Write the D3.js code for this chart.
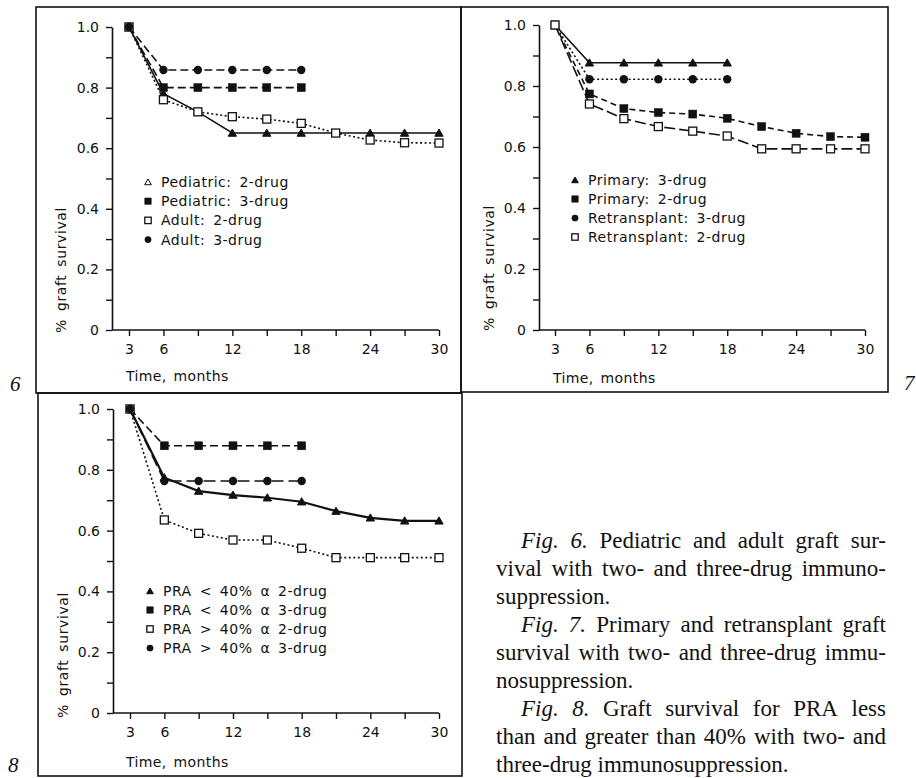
<!DOCTYPE html>
<html lang="en">
<head>
    <meta charset="UTF-8">
    <title>Graft survival, Figs. 6-8</title>
    <script src="https://d3js.org/d3.v7.min.js"></script>
    <style>
        body{
            margin: 0;
            background: #fff;
        }
        svg{
            display: block;
        }
        .tick text, .lab{
            font-family: "DejaVu Sans", sans-serif;
            font-size: 14px;
            fill: #111;
        }
    </style>
</head>
<body>
    <div id="chart"></div>

    <script>
        // months on the x axis (every 3 months)
        const months = [3, 6, 9, 12, 15, 18, 21, 24, 27, 30];
        const xLabelMonths = [3, 6, 12, 18, 24, 30];
        const yTicks = [0, 0.1, 0.2, 0.3, 0.4, 0.5, 0.6, 0.7, 0.8, 0.9, 1.0];
        const yLabels = ["0", "", "0.2", "", "0.4", "", "0.6", "", "0.8", "", "1.0"];

        // Fig. 6 - pediatric / adult
        const ped2drug   = [1.0, 0.78, 0.72, 0.65, 0.65, 0.65, 0.65, 0.65, 0.65, 0.65];
        const ped3drug   = [1.0, 0.80, 0.80, 0.80, 0.80, 0.80];
        const adult2drug = [1.0, 0.76, 0.72, 0.704, 0.696, 0.682, 0.65, 0.627, 0.618, 0.617];
        const adult3drug = [1.0, 0.858, 0.858, 0.858, 0.858, 0.858];

        // Fig. 7 - primary / retransplant
        const prim3drug  = [1.0, 0.876, 0.876, 0.876, 0.876, 0.876];
        const prim2drug  = [1.0, 0.774, 0.726, 0.713, 0.708, 0.694, 0.667, 0.645, 0.634, 0.632];
        const retx3drug  = [1.0, 0.822, 0.822, 0.822, 0.822, 0.822];
        const retx2drug  = [1.0, 0.741, 0.693, 0.667, 0.652, 0.636, 0.594, 0.594, 0.594, 0.594];

        // Fig. 8 - PRA
        const praLow2drug  = [1.0, 0.774, 0.730, 0.717, 0.708, 0.695, 0.664, 0.642, 0.632, 0.632];
        const praLow3drug  = [1.0, 0.879, 0.879, 0.879, 0.879, 0.879];
        const praHigh2drug = [1.0, 0.635, 0.591, 0.569, 0.569, 0.542, 0.511, 0.511, 0.511, 0.511];
        const praHigh3drug = [1.0, 0.763, 0.763, 0.763, 0.763, 0.763];

        const captionLines = [
            {text: "Fig. 6. Pediatric and adult graft sur-", indent: true, justify: true},
            {text: "vival with two- and three-drug immuno-", indent: false, justify: true},
            {text: "suppression.", indent: false, justify: false},
            {text: "Fig. 7. Primary and retransplant graft", indent: true, justify: true},
            {text: "survival with two- and three-drug immu-", indent: false, justify: true},
            {text: "nosuppression.", indent: false, justify: false},
            {text: "Fig. 8. Graft survival for PRA less", indent: true, justify: true},
            {text: "than and greater than 40% with two- and", indent: false, justify: true},
            {text: "three-drug immunosuppression.", indent: false, justify: false}
        ];

        const width = 916;
        const height = 778;

        const svg = d3.select("#chart")
            .append("svg")
            .attr("width", width)
            .attr("height", height);

        svg.append("rect")
            .attr("width", width)
            .attr("height", height)
            .attr("fill", "#fff");

        // panel frames
        const frames = [
            {x0: 36, y0: 7, x1: 461, y1: 393},
            {x0: 461, y0: 7, x1: 888, y1: 392},
            {x0: 38, y0: 393, x1: 462, y1: 776}
        ];
        svg.selectAll(".frame")
            .data(frames)
            .enter().append("rect")
            .attr("class", "frame")
            .attr("x", d => d.x0)
            .attr("y", d => d.y0)
            .attr("width", d => d.x1 - d.x0)
            .attr("height", d => d.y1 - d.y0)
            .attr("fill", "none")
            .attr("stroke", "#111")
            .attr("stroke-width", 1.6);

        // figure numbers
        const figNums = [
            {t: "6", x: 10, y: 391},
            {t: "7", x: 904, y: 390},
            {t: "8", x: 8, y: 772}
        ];
        svg.selectAll(".fignum")
            .data(figNums)
            .enter().append("text")
            .attr("x", d => d.x)
            .attr("y", d => d.y)
            .text(d => d.t)
            .style("font-family", "'Liberation Serif', serif")
            .style("font-style", "italic")
            .style("font-size", "21px")
            .attr("fill", "#111");

        // draw a marker
        function drawMarker(g, type, cx, cy, scale) {
            const s = scale || 1;
            if (type === "tri" || type === "otri") {
                g.append("path")
                    .attr("d", d3.symbol().type(d3.symbolTriangle).size(30 * s * s)())
                    .attr("transform", `translate(${cx},${cy + 0.8})`)
                    .attr("fill", type === "tri" ? "#111" : "#fff")
                    .attr("stroke", "#111")
                    .attr("stroke-width", 1);
            } else if (type === "sq" || type === "osq") {
                const h = 4 * s;
                g.append("rect")
                    .attr("x", cx - h)
                    .attr("y", cy - h)
                    .attr("width", 2 * h)
                    .attr("height", 2 * h)
                    .attr("fill", type === "sq" ? "#111" : "#fff")
                    .attr("stroke", "#111")
                    .attr("stroke-width", type === "sq" ? 0.5 : 1.3);
            } else {
                g.append("circle")
                    .attr("cx", cx)
                    .attr("cy", cy)
                    .attr("r", 4.2 * s)
                    .attr("fill", "#111");
            }
        }

        function drawPanel(p) {
            const g = svg.append("g");
            const x = d3.scaleLinear().domain([3, 30]).range([p.x3, p.x30]);
            const y = d3.scaleLinear().domain([0, 1]).range([p.y0, p.y1]);

            // y axis
            const yAxis = g.append("g")
                .attr("transform", `translate(${p.ax},0)`)
                .call(d3.axisLeft(y)
                    .tickValues(yTicks)
                    .tickSize(6)
                    .tickSizeOuter(0)
                    .tickPadding(7)
                    .tickFormat((d, i) => yLabels[i]));
            yAxis.select(".domain").attr("stroke-width", 1.6).attr("stroke", "#111");
            yAxis.selectAll(".tick line").attr("stroke-width", 1.4).attr("stroke", "#111");
            yAxis.attr("font-family", null).attr("font-size", null);

            // x axis
            const xAxis = g.append("g")
                .attr("transform", `translate(0,${p.y0})`)
                .call(d3.axisBottom(x)
                    .tickValues(months)
                    .tickSize(6)
                    .tickSizeOuter(0)
                    .tickPadding(8)
                    .tickFormat(d => xLabelMonths.includes(d) ? d : ""));
            xAxis.select(".domain").remove();
            xAxis.selectAll(".tick line").attr("stroke-width", 1.4).attr("stroke", "#111");
            xAxis.attr("font-family", null).attr("font-size", null);
            g.append("line")
                .attr("x1", p.ax)
                .attr("x2", p.x30)
                .attr("y1", p.y0)
                .attr("y2", p.y0)
                .attr("stroke", "#111")
                .attr("stroke-width", 1.6);

            // axis titles
            g.append("text")
                .attr("class", "lab")
                .attr("transform", `translate(${p.ytx},${p.yty}) rotate(-90)`)
                .attr("text-anchor", "middle")
                .attr("dy", "0.35em")
                .style("letter-spacing", "0.6px")
                .style("word-spacing", "3px")
                .text("% graft survival");

            g.append("text")
                .attr("class", "lab")
                .attr("x", p.xtx)
                .attr("y", p.xty)
                .style("letter-spacing", "0.4px")
                .style("word-spacing", "2px")
                .text("Time, months");

            // lines
            const line = d3.line()
                .x(d => x(d.m))
                .y(d => y(d.v));

            p.series.forEach(s => {
                const pts = s.values.map((v, i) => ({m: months[i], v: v}));
                g.append("path")
                    .datum(pts)
                    .attr("d", line)
                    .attr("fill", "none")
                    .attr("stroke", "#111")
                    .attr("stroke-width", s.lw || 1.6)
                    .attr("stroke-dasharray", s.dash);
            });
            p.series.forEach(s => {
                s.values.forEach((v, i) => drawMarker(g, s.marker, x(months[i]), y(v), 1));
            });

            // legend
            p.series.forEach((s, i) => {
                const ly = p.ly + i * p.lstep;
                drawMarker(g, s.legendMarker || s.marker, p.lx, ly, 0.8);
                g.append("text")
                    .attr("class", "lab")
                    .attr("x", p.lx + 13)
                    .attr("y", ly)
                    .attr("dy", "0.36em")
                    .style("letter-spacing", "0.5px")
                    .style("word-spacing", "3px")
                    .text(s.name);
            });
        }

        // Fig. 6
        drawPanel({
            x3: 129, x30: 439, y0: 330, y1: 27, ax: 112,
            ytx: 61, yty: 270, xtx: 126, xty: 381,
            lx: 148, ly: 182, lstep: 19.2,
            series: [
                {name: "Pediatric: 2-drug", values: ped2drug, marker: "tri", legendMarker: "otri", dash: null},
                {name: "Pediatric: 3-drug", values: ped3drug, marker: "sq", dash: "8,4"},
                {name: "Adult: 2-drug", values: adult2drug, marker: "osq", dash: "2,2.5"},
                {name: "Adult: 3-drug", values: adult3drug, marker: "dot", dash: "8,4"}
            ]
        });

        // Fig. 7
        drawPanel({
            x3: 555, x30: 865, y0: 330, y1: 25, ax: 539,
            ytx: 489, yty: 268, xtx: 553, xty: 383,
            lx: 575, ly: 180, lstep: 19,
            series: [
                {name: "Primary: 3-drug", values: prim3drug, marker: "tri", dash: null},
                {name: "Primary: 2-drug", values: prim2drug, marker: "sq", dash: "6,4"},
                {name: "Retransplant: 3-drug", values: retx3drug, marker: "dot", dash: "2,2.5"},
                {name: "Retransplant: 2-drug", values: retx2drug, marker: "osq", dash: "11,4"}
            ]
        });

        // Fig. 8
        drawPanel({
            x3: 130, x30: 439, y0: 713, y1: 409, ax: 113,
            ytx: 63, yty: 655, xtx: 126, xty: 767,
            lx: 150, ly: 591, lstep: 19,
            series: [
                {name: "PRA < 40% α 2-drug", values: praLow2drug, marker: "tri", dash: null, lw: 2.2},
                {name: "PRA < 40% α 3-drug", values: praLow3drug, marker: "sq", dash: "8,4"},
                {name: "PRA > 40% α 2-drug", values: praHigh2drug, marker: "osq", dash: "2,2.5"},
                {name: "PRA > 40% α 3-drug", values: praHigh3drug, marker: "dot", dash: "12,5"}
            ]
        });

        // caption, justified word by word
        const cap = svg.append("g")
            .style("font-family", "'Liberation Serif', 'Times New Roman', serif")
            .style("font-size", "23px")
            .attr("fill", "#111");
        const capLeft = 496, capRight = 886, capIndent = 25, capTop = 548, capStep = 28;

        captionLines.forEach((ln, li) => {
            const words = ln.text.split(" ");
            const x0 = capLeft + (ln.indent ? capIndent : 0);
            const yb = capTop + li * capStep;
            const nodes = words.map((w, wi) => cap.append("text")
                .attr("y", yb)
                .style("font-style", ln.indent && wi < 2 ? "italic" : "normal")
                .text(w));
            const widths = nodes.map(n => n.node().getComputedTextLength());
            const total = d3.sum(widths);
            const gap = ln.justify && words.length > 1
                ? (capRight - x0 - total) / (words.length - 1)
                : 5.8;
            let cx = x0;
            nodes.forEach((n, i) => {
                n.attr("x", cx);
                cx += widths[i] + gap;
            });
        });
    </script>
</body>
</html>
